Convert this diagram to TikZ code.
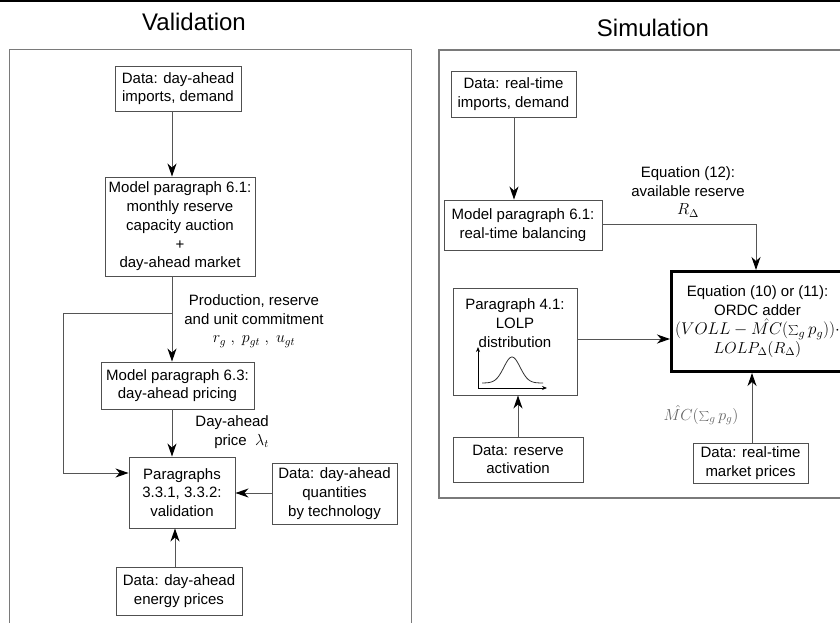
\RequirePackage{fix-cm}
\documentclass[tikz,border=0pt]{standalone}
\usepackage{fontspec}
\setmainfont{Liberation Sans}
\usetikzlibrary{arrows.meta}
\definecolor{boxc}{HTML}{505050}
\definecolor{framec}{HTML}{7A7A7A}
\definecolor{linec}{HTML}{555555}
\newcommand{\mth}[1]{{\fontsize{16}{19}\selectfont$#1$}}
\newcommand{\mthb}[1]{{\fontsize{17}{20}\selectfont$#1$}}
\begin{document}
\begin{tikzpicture}[x=1pt,y=-1pt,
  font=\fontsize{15}{18.75}\selectfont,
  box/.style={draw=boxc, line width=0.9pt, align=center, inner sep=0pt},
  frame/.style={draw=framec, line width=1.2pt},
  arr/.style={draw=linec, line width=1pt, -{Stealth[length=13pt,width=9pt,inset=4pt,color=black]}},
  lbl/.style={align=center, inner sep=0pt},
  ttl/.style={font=\fontsize{24}{28}\selectfont, inner sep=0pt}]
\useasboundingbox (0,0) rectangle (840,623);
\fill[black] (0,0) rectangle (840,2.2);
% titles
\node[ttl] (tv) at (194,22) {Validation};
\node[ttl] (ts) at (653,28) {Simulation};
% frames
\draw[frame] (9.5,49.5) rectangle (411.5,640);
\draw[frame] (439,50) rectangle (850,498);
% ---- Validation ----
\node[box, minimum width=126pt, minimum height=45pt] (b1) at (178,88.5) {Data: day-ahead\\imports, demand};
\node[box, minimum width=150pt, minimum height=99pt] (b2) at (180,226.5) {Model paragraph 6.1:\\monthly reserve\\capacity auction\\+\\day-ahead market};
\node[box, minimum width=153pt, minimum height=47pt] (b3) at (177.5,385.5) {Model paragraph 6.3:\\day-ahead pricing};
\node[box, minimum width=106pt, minimum height=71pt] (b4) at (182,492.5) {Paragraphs\\3.3.1, 3.3.2:\\validation};
\node[box, minimum width=125pt, minimum height=61pt] (b5) at (334.5,493.5) {Data: day-ahead\\quantities\\by technology};
\node[box, minimum width=126pt, minimum height=48pt] (b6) at (179,591) {Data: day-ahead\\energy prices};
\node[lbl] (l1) at (254,321) {Production, reserve\\and unit commitment\\\mth{r_g\;,\;p_{gt}\;,\;u_{gt}}};
\node[lbl, align=right, anchor=east] (l2) at (269,432) {Day-ahead\\price\ \ \mth{\lambda_t}};
\coordinate (c1) at (172,0);
\coordinate (c2) at (175,0);
\coordinate (br) at (172,313);
\coordinate (brA) at (63,313);
\coordinate (brB) at (63,473);
\draw[arr] (b1.south -| c1) -- (b2.north -| c1);
\draw[arr] (b2.south -| c1) -- (b3.north -| c1);
\draw[arr] (br) -- (brA) -- (brB) -- (b4.west |- brB);
\draw[arr] (b3.south -| c1) -- (b4.north -| c1);
\draw[arr] (b5.west |- 0,493) -- (b4.east |- 0,493);
\draw[arr] (b6.north -| c2) -- (b4.south -| c2);
% ---- Simulation ----
\node[box, minimum width=125pt, minimum height=46pt] (b7) at (513.5,94) {Data: real-time\\imports, demand};
\node[box, minimum width=158pt, minimum height=50pt] (b8) at (523,225) {Model paragraph 6.1:\\real-time balancing};
\node[box, minimum width=124pt, minimum height=107pt] (b9) at (515,341.5) {};
\node[lbl] (b9t) at (515,323) {Paragraph 4.1:\\LOLP\\distribution};
\draw[draw=black, line width=0.8pt, -{Stealth[length=5pt,width=4pt]}] (478,388) -- (478,347);
\draw[draw=black, line width=0.8pt, -{Stealth[length=5pt,width=4pt]}] (478,388) -- (547,388);
\draw[draw=black!80, line width=0.8pt] plot[domain=482:543, samples=60] (\x, {383 - 26*exp(-((\x-512)/11.5)^2)});
\node[draw=black, line width=3pt, minimum width=172pt, minimum height=100pt, align=center, inner sep=0pt] (b10) at (757.5,321.5)
  {Equation (10) or (11):\\ORDC adder\\[1pt]\mthb{(VOLL-\hat{MC}(\textstyle\sum_g p_g))\cdot}\hspace{8pt}\\[0pt]\mth{LOLP_\Delta(R_\Delta)}};
\node[box, minimum width=130pt, minimum height=45pt] (b11) at (518,459.5) {Data: reserve\\activation};
\node[box, minimum width=115pt, minimum height=40pt] (b12) at (750.5,463) {Data: real-time\\market prices};
\node[lbl] (l3) at (688,192) {Equation (12):\\available reserve\\\mth{R_\Delta}};
\node[lbl, text=black!60] (l4) at (701,415) {\mth{\hat{MC}(\textstyle\sum_g p_g)}};
\coordinate (c3) at (514,0);
\coordinate (c4) at (756,224);
\coordinate (c5) at (518,0);
\coordinate (c6) at (752,0);
\draw[arr] (b7.south -| c3) -- (b8.north -| c3);
\draw[arr] (b8.east |- c4) -- (c4) -- (b10.north -| c4);
\draw[arr] (b9.east |- 0,339) -- (b10.west |- 0,339);
\draw[arr] (b11.north -| c5) -- (b9.south -| c5);
\draw[arr] (b12.north -| c6) -- (b10.south -| c6);
\end{tikzpicture}
\end{document}
